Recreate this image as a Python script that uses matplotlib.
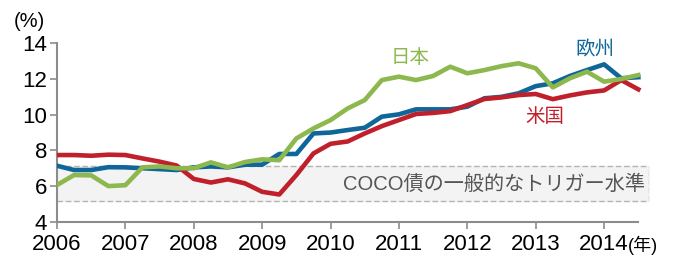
import matplotlib.pyplot as plt
import numpy as np

plt.rcParams['font.family'] = ['Liberation Sans', 'Noto Sans CJK JP', 'DejaVu Sans']

# 四半期データ 2006.0 - 2014.5
years = np.arange(2006, 2014.51, 0.25)
japan = [6.06, 6.62, 6.6, 6.0, 6.05, 7.05, 7.1, 7.0, 7.0, 7.33, 7.05, 7.35,
         7.5, 7.45, 8.67, 9.23, 9.7, 10.35, 10.82, 11.94, 12.13, 11.94, 12.17, 12.69,
         12.32, 12.5, 12.72, 12.88, 12.6, 11.53, 12.04, 12.41, 11.85, 12.0, 12.22]
europe = [7.14, 6.9, 6.9, 7.06, 7.05, 7.0, 6.95, 6.9, 7.05, 7.1, 7.05, 7.2,
          7.2, 7.8, 7.8, 8.95, 9.0, 9.14, 9.27, 9.89, 10.02, 10.3, 10.3, 10.3,
          10.45, 10.92, 11.0, 11.2, 11.6, 11.76, 12.17, 12.5, 12.82, 12.04, 12.1]
us = [7.74, 7.74, 7.7, 7.76, 7.74, 7.55, 7.37, 7.15, 6.4, 6.2, 6.38, 6.15,
      5.68, 5.53, 6.62, 7.83, 8.37, 8.5, 8.95, 9.36, 9.7, 10.04, 10.1, 10.2,
      10.54, 10.88, 10.97, 11.1, 11.16, 10.87, 11.08, 11.25, 11.36, 11.94, 11.42]
trigger_band = (5.15, 7.1)
xticks = list(range(2006, 2015))

c_jp = '#8cb84e'
c_eu = '#0f6699'
c_us = '#c0202b'
grey = '#8c8c8c'

fig = plt.figure(figsize=(6.73, 2.57), dpi=100)
ax = fig.add_axes([0.0847, 0.137, 0.879, 0.6945])

ax.fill_between([2006, 2014.65], trigger_band[0], trigger_band[1],
                color='#f3f3f3', zorder=0)
for v in trigger_band:
    ax.plot([2006, 2014.65], [v, v], color='#b5b5b5', lw=1, ls=(0, (4, 2)), zorder=1)
ax.plot([2014.65, 2014.65], trigger_band, color='#b5b5b5', lw=1, ls=(0, (4, 2)), zorder=1)
ax.text(2014.6, 6.1, 'COCO債の一般的なトリガー水準', ha='right', va='center',
        fontsize=14.5, color='#555555', zorder=2)

ax.plot(years, europe, color=c_eu, lw=3.3, zorder=3)
ax.plot(years, us, color=c_us, lw=3.3, zorder=4)
ax.plot(years, japan, color=c_jp, lw=3.3, zorder=5)

ax.text(2011.17, 13.2, '日本', color=c_jp, fontsize=14, ha='center', va='center')
ax.text(2013.87, 13.6, '欧州', color=c_eu, fontsize=14, ha='center', va='center')
ax.text(2013.14, 9.85, '米国', color=c_us, fontsize=14, ha='center', va='center')

ax.set_xlim(2006, 2014.65)
ax.set_ylim(4, 14)
ax.set_xticks(xticks)
ax.set_yticks(range(4, 15, 2))
ax.tick_params(axis='both', direction='out', length=5, width=1.2, color=grey,
               labelsize=16, pad=2)
ax.tick_params(axis='x', pad=4)
for s in ['top', 'right']:
    ax.spines[s].set_visible(False)
for s in ['left', 'bottom']:
    ax.spines[s].set_color(grey)
    ax.spines[s].set_linewidth(1.5)
ax.spines['bottom'].set_bounds(2006, 2014.5)

fig.text(0.02, 0.915, '(%)', fontsize=14.5, ha='left', va='center')
fig.text(0.933, 0.045, '(年)', fontsize=13, ha='left', va='center')

fig.savefig('out.png', dpi=100)
